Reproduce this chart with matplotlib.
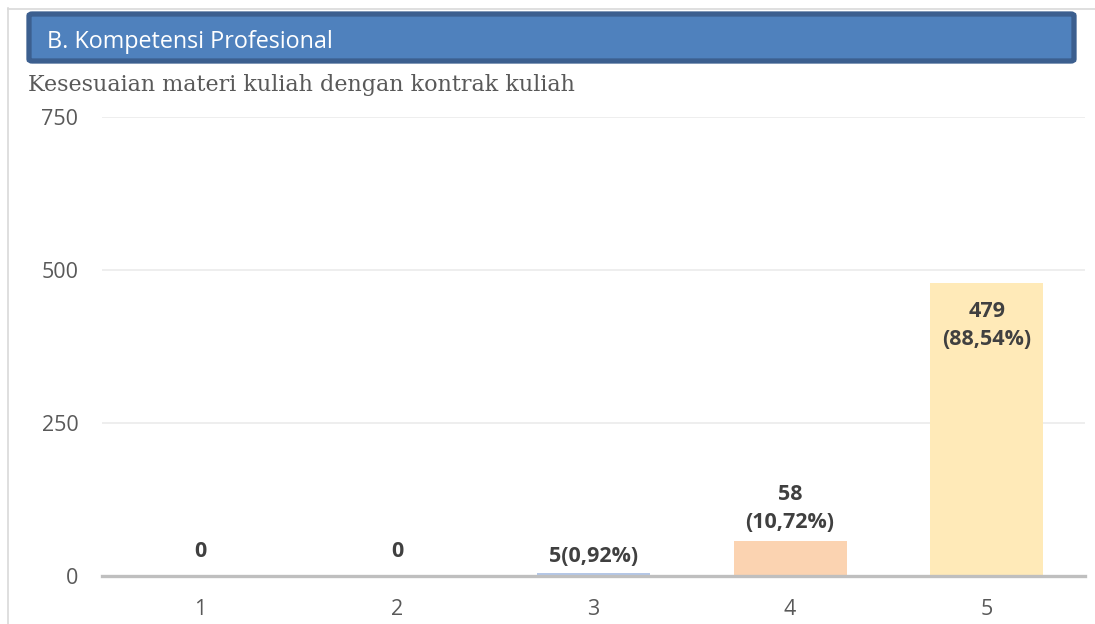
import matplotlib
matplotlib.use("Agg")
import matplotlib.pyplot as plt
from matplotlib.patches import FancyBboxPatch
from matplotlib.lines import Line2D

categories = ["1", "2", "3", "4", "5"]
values = [0, 0, 5, 58, 479]
labels = ["0", "0", "5(0,92%)", "58\n(10,72%)", "479\n(88,54%)"]
colors = ["#B4C7E7", "#B4C7E7", "#B4C7E7", "#FBD3B1", "#FFEAB8"]
yticks = [0, 250, 500, 750]
banner_title = "B. Kompetensi Profesional"
subtitle = "Kesesuaian materi kuliah dengan kontrak kuliah"

fig = plt.figure(figsize=(10.95, 6.24), dpi=100)
W, H = 1095, 624

def fx(px):
    return px / W

def fy(py):
    return 1 - py / H

# outer border lines
fig.add_artist(Line2D([fx(8), fx(8)], [fy(8), 0], color="#D9D9D9", lw=1.2))
fig.add_artist(Line2D([fx(8), 1], [fy(8.5), fy(8.5)], color="#D9D9D9", lw=1.2))

# banner
banner = FancyBboxPatch((fx(29), fy(61)), fx(1074) - fx(29), fy(14) - fy(61),
                        boxstyle="round,pad=0,rounding_size=0.003",
                        transform=fig.transFigure, facecolor="#4F81BD",
                        edgecolor="#3C5F8F", linewidth=3.8)
fig.add_artist(banner)
fig.text(fx(47), fy(41.5), banner_title, color="white", fontsize=16.8,
         family="Open Sans", va="center", ha="left")

fig.text(fx(28), fy(85), subtitle, color="#595959", fontsize=16,
         family="DejaVu Serif", va="center", ha="left")

ax = fig.add_axes([fx(102), fy(576), fx(1085) - fx(102), fy(117) - fy(576)])
x = list(range(len(categories)))
ax.bar(x, values, width=0.575, color=colors, zorder=2)
ax.set_xlim(-0.5, len(categories) - 0.5)
ax.set_ylim(0, 750)
ax.set_yticks(yticks)
ax.set_xticks(x)
ax.set_xticklabels(categories)
ax.grid(axis="y", color="#EBEBEB", lw=1.2, zorder=0)
for s in ["top", "right", "left"]:
    ax.spines[s].set_visible(False)
ax.spines["bottom"].set_color("#BFBFBF")
ax.spines["bottom"].set_linewidth(2.4)
ax.spines["bottom"].set_zorder(3)
ax.tick_params(axis="both", length=0, labelsize=15.5, labelcolor="#595959")
ax.tick_params(axis="x", pad=16.5)
ax.tick_params(axis="y", pad=17)
for t in ax.get_xticklabels() + ax.get_yticklabels():
    t.set_family("Open Sans")

offsets = [17.5, 17.5, 11.5, 23, -30.6]
for xi, v, lab, off in zip(x, values, labels, offsets):
    ax.annotate(lab, (xi, v), xytext=(0, off), textcoords="offset points",
                ha="center", va="center", fontsize=15.5, fontweight="bold",
                color="#404040", family="Open Sans", linespacing=1.45,
                zorder=4)

fig.savefig("out.png", dpi=100)
